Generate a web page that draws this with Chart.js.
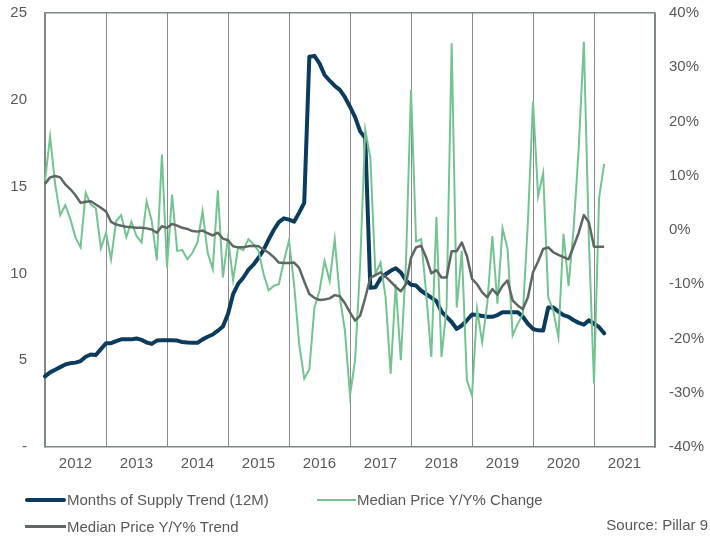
<!DOCTYPE html>
<html>
<head>
<meta charset="utf-8">
<script src="https://cdn.jsdelivr.net/npm/chart.js@4"></script>
<style>
  body { margin: 0; background: #fff; }
  #wrap { position: relative; width: 710px; height: 541px; overflow: hidden; font-family: "Liberation Sans", Arial, sans-serif; }
  #box { position: absolute; left: 0; top: -14px; width: 710px; height: 555px; }
  .leg { position: absolute; font-size: 15px; color: #595959; white-space: nowrap; line-height: 18px; }
  .sw { position: absolute; }
</style>
</head>
<body>
<div id="wrap">
  <div id="box"><canvas id="myChart"></canvas></div>
  <div class="sw" style="left:25px; top:498px; width:41px; height:4px; background:#0b3c5d; border-radius:2px;"></div>
  <div class="leg" style="left:67px; top:491px;">Months of Supply Trend (12M)</div>
  <div class="sw" style="left:317px; top:499px; width:39px; height:2px; background:#73c490;"></div>
  <div class="leg" style="left:357px; top:491px;">Median Price Y/Y% Change</div>
  <div class="sw" style="left:25px; top:525px; width:41px; height:3px; background:#5f6763;"></div>
  <div class="leg" style="left:67px; top:518px;">Median Price Y/Y% Trend</div>
  <div class="leg" style="right:2px; top:516px;">Source: Pillar 9</div>
</div>
<script>
const years = ['2012', '2013', '2014', '2015', '2016', '2017', '2018', '2019', '2020', '2021'];
const monthNames = ['Jan', 'Feb', 'Mar', 'Apr', 'May', 'Jun', 'Jul', 'Aug', 'Sep', 'Oct', 'Nov', 'Dec'];

// months of supply, 12M trend (left axis), Jan 2012 - Mar 2021
const supplyTrend = [
    4.07, 4.3, 4.45, 4.6, 4.75, 4.83, 4.86, 4.95, 5.2, 5.33,
    5.3, 5.64, 5.98, 5.98, 6.1, 6.2, 6.2, 6.2, 6.25, 6.17,
    6.02, 5.94, 6.13, 6.15, 6.15, 6.15, 6.13, 6.05, 6.02, 6.0,
    6.0, 6.2, 6.35, 6.48, 6.7, 6.94, 7.66, 8.8, 9.4, 9.75,
    10.2, 10.5, 10.9, 11.35, 11.95, 12.5, 12.95, 13.17, 13.1, 12.98,
    13.5, 14.07, 22.48, 22.53, 22.1, 21.43, 21.1, 20.8, 20.57, 20.15,
    19.6, 19.0, 18.18, 17.79, 9.17, 9.2, 9.7, 9.95, 10.15, 10.3,
    10.05, 9.6, 9.35, 9.3, 9.0, 8.8, 8.6, 8.4, 7.8, 7.5,
    7.2, 6.8, 7.0, 7.3, 7.63, 7.6, 7.55, 7.5, 7.5, 7.6,
    7.76, 7.76, 7.76, 7.76, 7.5, 7.1, 6.8, 6.72, 6.71, 8.04,
    8.04, 7.8, 7.6, 7.5, 7.3, 7.15, 7.05, 7.3, 7.1, 6.9,
    6.55
];

// median price y/y % change (right axis)
const priceChange = [
    9.0, 17.2, 8.4, 2.75, 4.6, 2.0, -1.4, -3.2, 6.85, 4.7,
    4.0, -3.4, -0.5, -5.4, 1.65, 2.75, -1.3, 1.5, -1.1, -2.3,
    5.3, 1.65, -5.6, 13.9, -6.9, 6.55, -3.85, -3.7, -5.4, -4.2,
    -2.3, 3.5, -4.2, -7.2, 7.3, -8.75, -1.4, -9.2, -3.2, -3.7,
    -1.7, -2.6, -3.85, -8.1, -11.1, -10.3, -10.0, -5.7, -1.9, -10.0,
    -21.0, -27.4, -25.7, -14.3, -11.2, -5.7, -9.4, -1.7, -12.4, -18.5,
    -30.5, -24.0, -6.3, 18.5, 13.3, -8.1, -6.0, -12.4, -26.5, -10.0,
    -24.0, -6.3, 25.8, -2.1, -1.7, -11.8, -23.4, 2.4, -23.4, -14.3,
    34.4, -14.3, -3.85, -27.7, -30.5, -14.6, -20.7, -13.6, -1.1, -13.6,
    0.3, -3.5, -19.4, -17.3, -15.5, 1.5, 23.7, 6.2, 10.5, -12.4,
    -14.9, -19.8, -0.7, -10.3, 0.4, 15.1, 34.7, -2.0, -28.3, 5.9,
    12.2
];

// median price y/y % trend (right axis)
const priceTrend = [
    8.5, 9.7, 9.96, 9.7, 8.4, 7.5, 6.4, 5.0, 5.2, 5.3,
    4.7, 4.1, 3.4, 1.5, 1.0, 0.8, 0.6, 0.5, 0.4, 0.4,
    0.3, 0.1, -0.5, 0.7, 0.4, 1.1, 0.8, 0.4, 0.2, -0.2,
    -0.3, -0.1, -0.6, -1.0, -0.5, -1.6, -1.9, -3.0, -3.2, -3.2,
    -3.0, -2.9, -3.0, -3.6, -4.2, -5.0, -6.0, -6.1, -6.1, -6.0,
    -7.0, -9.5, -11.8, -12.5, -12.9, -12.8, -12.6, -12.0, -12.2, -13.5,
    -15.2, -16.7, -15.8, -12.5, -8.8, -8.3, -7.8, -8.6, -9.5, -10.5,
    -11.3, -10.0, -5.1, -3.2, -2.9, -5.1, -8.0, -7.4, -8.75, -8.75,
    -3.9, -3.9, -2.3, -4.8, -9.0, -10.0, -11.5, -12.4, -10.9, -11.9,
    -10.3, -9.3, -13.0, -13.9, -14.6, -12.4, -7.8, -5.8, -3.5, -3.2,
    -4.1, -4.6, -5.0, -5.4, -3.0, -0.5, 2.75, 1.4, -3.1, -3.1,
    -3.1
];

// one category per month, Jan 2012 .. Jan 2022 (year boundaries are gridlines)
const monthLabels = [];
years.forEach(y => monthNames.forEach(m => monthLabels.push(m + ' ' + y)));
monthLabels.push('Jan 2022');

const tickColor = '#595959';
const boxColor = '#7d8883';
const tickFont = { family: '"Liberation Sans", Arial, sans-serif', size: 15 };

const ctx = document.getElementById('myChart');
const myChart = new Chart(ctx, {
    type: 'line',
    data: {
        labels: monthLabels,
        datasets: [
            {
                label: 'Months of Supply Trend (12M)',
                data: supplyTrend,
                yAxisID: 'y',
                borderColor: '#0b3c5d',
                borderWidth: 4,
                pointRadius: 0,
                borderJoinStyle: 'round',
                borderCapStyle: 'round',
                order: 3
            },
            {
                label: 'Median Price Y/Y% Change',
                data: priceChange,
                yAxisID: 'y2',
                borderColor: '#73c490',
                borderWidth: 2,
                pointRadius: 0,
                order: 2
            },
            {
                label: 'Median Price Y/Y% Trend',
                data: priceTrend,
                yAxisID: 'y2',
                borderColor: '#5f6763',
                borderWidth: 2.5,
                pointRadius: 0,
                borderJoinStyle: 'round',
                order: 1
            }
        ]
    },
    options: {
        responsive: true,
        maintainAspectRatio: false,
        animation: false,
        layout: { padding: { top: 0, left: 0, right: 0, bottom: 0 } },
        scales: {
            x: {
                afterFit: function(scale) { scale.height = 94; },
                grid: {
                    drawTicks: false,
                    color: c => (c.index % 12 === 0 ? '#8a8a8a' : 'transparent'),
                    lineWidth: 1
                },
                border: { display: true, color: boxColor, width: 1.5 },
                ticks: {
                    autoSkip: false,
                    maxRotation: 0,
                    padding: 8,
                    color: tickColor,
                    font: tickFont,
                    callback: function(val, index) {
                        return index % 12 === 6 ? years[Math.floor(index / 12)] : '';
                    }
                }
            },
            y: {
                position: 'left',
                min: 0,
                max: 25,
                afterFit: function(scale) { scale.width = 45; },
                grid: {
                    drawTicks: false,
                    color: c => (c.tick && c.tick.value === 25 ? boxColor : 'transparent'),
                    lineWidth: 1.5
                },
                border: { display: true, color: boxColor, width: 1.5 },
                ticks: {
                    stepSize: 5,
                    padding: 18,
                    color: tickColor,
                    font: tickFont,
                    callback: v => (v === 0 ? '-' : v)
                }
            },
            y2: {
                position: 'right',
                min: -40,
                max: 40,
                afterFit: function(scale) { scale.width = 55; },
                grid: { display: false, drawTicks: false },
                border: { display: true, color: boxColor, width: 1.5 },
                ticks: {
                    stepSize: 10,
                    padding: 14,
                    color: tickColor,
                    font: tickFont,
                    callback: v => v + '%'
                }
            }
        },
        plugins: {
            legend: { display: false },
            tooltip: { enabled: false }
        }
    }
});
</script>
</body>
</html>
